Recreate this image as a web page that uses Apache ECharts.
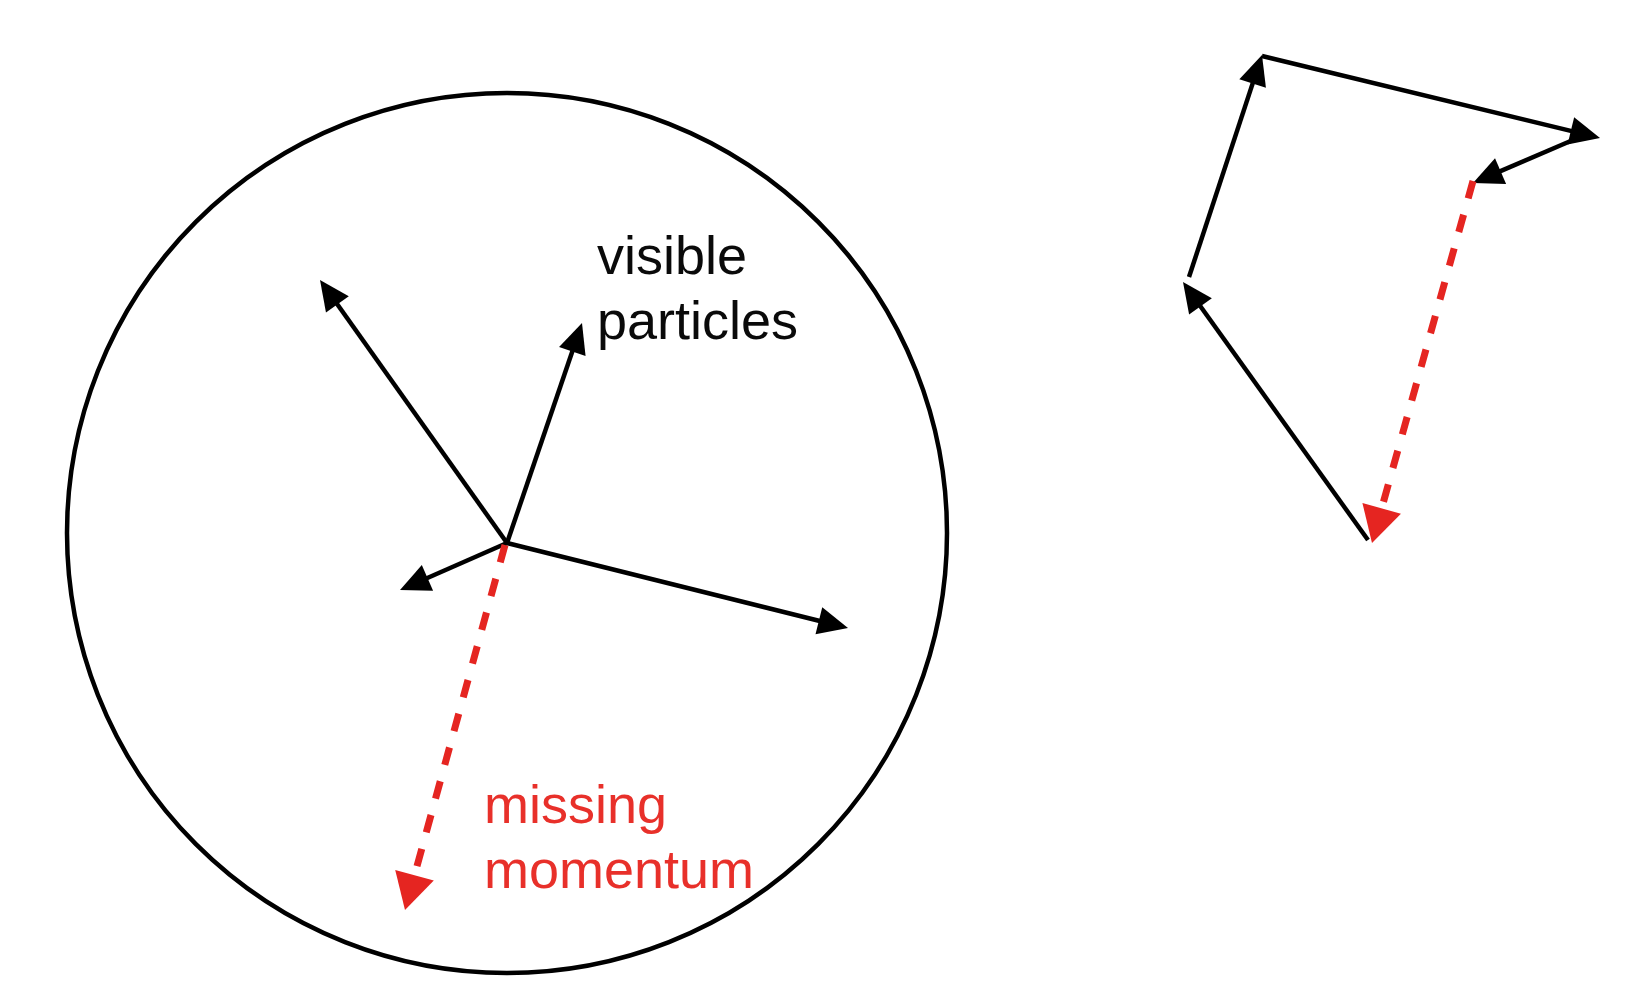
<!DOCTYPE html>
<html>
<head>
<meta charset="utf-8">
<title>missing momentum</title>
<script src="https://cdn.jsdelivr.net/npm/echarts@6.0.0/dist/echarts.min.js"></script>
<style>
    html, body { margin: 0; padding: 0; background: #fff; }
    #main { width: 1632px; height: 1000px; }
</style>
</head>
<body>
<div id="main"></div>
<script>
// 画布坐标：x 向右，y 向下（像素单位）
var detector = [[507, 533, 440]];                 // 圆心 x, y, 半径
// 可见粒子 [起点x, 起点y, 终点x, 终点y]
var visibleArrows = [
    [507, 543, 320, 280],
    [507, 543, 582, 323],
    [507, 543, 400, 590],
    [507, 543, 848, 628]
];
var missingArrows = [[505, 545, 405, 910]];
// 右边：首尾相接的矢量和
var sumArrows = [
    [1368, 540, 1183, 282],
    [1189, 277, 1262, 55],
    [1262, 56, 1600, 138],
    [1573, 140, 1473, 183]
];
var sumMissing = [[1473, 181, 1372, 543]];
// 文字 [内容, x, y(顶部), 颜色]
var labelText = ['visible\nparticles', 'missing\nmomentum'];
var labelPos = [[597, 227], [484, 776]];
var labelColor = ['#0a0a0a', '#e8302a'];

var black = '#000000';
var red = '#e52521';

var myChart = echarts.init(document.getElementById('main'));

// 箭头：一条线 + 三角形箭头
function arrowItem(color, width, dash, headLen, headWid) {
    return function (params, api) {
        var p1 = api.coord([api.value(0), api.value(1)]);
        var p2 = api.coord([api.value(2), api.value(3)]);
        var dx = p2[0] - p1[0];
        var dy = p2[1] - p1[1];
        var len = Math.sqrt(dx * dx + dy * dy);
        var ux = dx / len, uy = dy / len;
        var bx = p2[0] - ux * headLen;
        var by = p2[1] - uy * headLen;
        return {
            type: 'group',
            children: [{
                type: 'line',
                shape: { x1: p1[0], y1: p1[1], x2: bx + ux * 2, y2: by + uy * 2 },
                style: { stroke: color, lineWidth: width, lineDash: dash, lineCap: 'butt' }
            }, {
                type: 'polygon',
                shape: {
                    points: [
                        [p2[0], p2[1]],
                        [bx - uy * headWid / 2, by + ux * headWid / 2],
                        [bx + uy * headWid / 2, by - ux * headWid / 2]
                    ]
                },
                style: { fill: color }
            }]
        };
    };
}

function arrowSeries(data, color, width, dash, headLen, headWid) {
    return {
        type: 'custom',
        coordinateSystem: 'cartesian2d',
        silent: true,
        encode: { x: [0, 2], y: [1, 3] },
        renderItem: arrowItem(color, width, dash, headLen, headWid),
        data: data
    };
}

var option = {
    animation: false,
    backgroundColor: '#ffffff',
    grid: { left: 0, right: 0, top: 0, bottom: 0 },
    xAxis: { type: 'value', min: 0, max: 1632, show: false },
    yAxis: { type: 'value', min: 0, max: 1000, inverse: true, show: false },
    series: [
        {
            // 探测器圆
            type: 'custom',
            coordinateSystem: 'cartesian2d',
            silent: true,
            renderItem: function (params, api) {
                var c = api.coord([api.value(0), api.value(1)]);
                var r = api.size([api.value(2), 0])[0];
                return {
                    type: 'circle',
                    shape: { cx: c[0], cy: c[1], r: r },
                    style: { fill: 'none', stroke: black, lineWidth: 4.5 }
                };
            },
            data: detector
        },
        arrowSeries(visibleArrows, black, 4.5, null, 30, 28),
        arrowSeries(missingArrows, red, 7, [18, 17], 36, 40),
        arrowSeries(sumArrows, black, 4.5, null, 30, 28),
        arrowSeries(sumMissing, red, 7, [18, 17], 36, 40),
        {
            // 文字标注
            type: 'custom',
            coordinateSystem: 'cartesian2d',
            silent: true,
            renderItem: function (params, api) {
                var i = params.dataIndex;
                var p = api.coord(labelPos[i]);
                return {
                    type: 'text',
                    x: p[0],
                    y: p[1],
                    style: {
                        text: labelText[i],
                        fill: labelColor[i],
                        fontSize: 54,
                        fontFamily: '"Liberation Sans", Arial, sans-serif',
                        lineHeight: 65,
                        align: 'left',
                        verticalAlign: 'top'
                    }
                };
            },
            data: labelPos
        }
    ]
};

myChart.setOption(option);
</script>
</body>
</html>
